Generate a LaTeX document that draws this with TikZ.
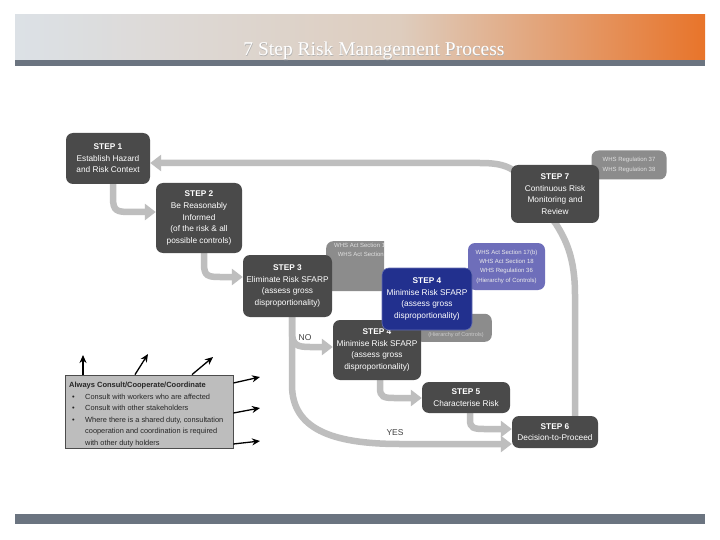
\documentclass[tikz,border=0pt]{standalone}
\usepackage{fontspec}
\setmainfont{Liberation Serif}
\setsansfont{Liberation Sans}
\usetikzlibrary{arrows.meta}
\definecolor{stepgray}{HTML}{4A4A4A}
\definecolor{arrowgray}{HTML}{BEBEBE}
\definecolor{refgray}{HTML}{8C8C8C}
\definecolor{stepblue}{HTML}{22308E}
\definecolor{refpurple}{HTML}{6E6EBA}
\definecolor{consultfill}{HTML}{BDBDBD}
\definecolor{barslate}{HTML}{6B7480}
\definecolor{bannerleft}{HTML}{DCE1E6}
\definecolor{bannermid}{HTML}{DECDBE}
\definecolor{bannerright}{HTML}{E8742A}
\tikzset{
  stepbox/.style={rounded corners=7pt, fill=stepgray, text=white, align=center, inner sep=0pt,
    font=\sffamily\fontsize{8.3}{11.6}\selectfont},
  refbox/.style={rounded corners=7pt, fill=refgray, text=white!88!black, align=center, inner sep=0pt,
    font=\sffamily\fontsize{6}{9.3}\selectfont},
  flow/.style={draw=arrowgray, line width=6.5pt, -{Triangle[width=16pt,length=11pt]}},
  consultarrow/.style={draw=black, line width=1.3pt, -{Stealth[length=8pt,width=7pt]}},
  consulttext/.style={anchor=base west, inner sep=0pt, text=black!85, font=\sffamily\fontsize{7.4}{8}\selectfont},
  flowlabel/.style={text=black!75, font=\sffamily\fontsize{8.5}{10}\selectfont, inner sep=0pt},
}
\begin{document}
\begin{tikzpicture}[x=1pt,y=-1pt]
\useasboundingbox (0,0) rectangle (720,540);
\fill[white] (0,0) rectangle (720,540);

% header banner
\shade[left color=bannerleft, right color=bannermid] (15,15) rectangle (400,60);
\shade[left color=bannermid, right color=bannerright] (400,15) rectangle (705,60);
\fill[barslate] (15,60.5) rectangle (705,66);
\node[font=\fontsize{19.5}{21}\selectfont, text=black!30, inner sep=0pt, anchor=base] (titleshadow) at (374.5,56.5) {7 Step Risk Management Process};
\node[font=\fontsize{19.5}{21}\selectfont, text=white, inner sep=0pt, anchor=base] (title) at (374,56) {7 Step Risk Management Process};
% footer bar
\fill[barslate] (15,514) rectangle (705,524);

% coordinates for node centres
\coordinate (p1) at (108,158.5);
\coordinate (p2) at (199,218);
\coordinate (p3) at (287.5,286);
\coordinate (p4d) at (377,350);
\coordinate (p4b) at (427,299);
\coordinate (p5) at (466,397.5);
\coordinate (p6) at (555,432);
\coordinate (p7) at (555,194);

% invisible placeholders so flows can refer to boxes before they are drawn
\path (p1) node[minimum width=84pt, minimum height=51pt, inner sep=0] (s1) {};
\path (p2) node[minimum width=86pt, minimum height=70pt, inner sep=0] (s2) {};
\path (p3) node[minimum width=89pt, minimum height=62pt, inner sep=0] (s3) {};
\path (p4d) node[minimum width=88pt, minimum height=60pt, inner sep=0] (s4d) {};
\path (p5) node[minimum width=88pt, minimum height=31pt, inner sep=0] (s5) {};
\path (p6) node[minimum width=86pt, minimum height=32pt, inner sep=0] (s6) {};

% flow arrows
\draw[flow] (113,0 |- s1.south) -- (113,198) .. controls (113,211) and (117,212) .. (130,212) -- (s2.west |- 0,212);
\draw[flow] (204,0 |- s2.south) -- (204,264) .. controls (204,276) and (208,277) .. (220,277) -- (s3.west |- 0,277);
\draw[flow] (292,0 |- s3.south) -- (292,385) .. controls (292,428) and (330,444) .. (400,444) -- (s6.west |- 0,444);
\draw[flow] (292,0 |- s3.south) -- (292,332) .. controls (292,345) and (297,347) .. (310,347) -- (s4d.west |- 0,347);
\draw[flow] (380,0 |- s4d.south) -- (380,388) .. controls (380,397) and (384,398) .. (394,398) -- (s5.west |- 0,398);
\draw[flow] (470,0 |- s5.south) -- (470,420) .. controls (470,428) and (474,429) .. (484,429) -- (s6.west |- 0,429);
\draw[flow] (575,0 |- s6.north) -- (575,295) .. controls (575,258) and (566,240) .. (556,224) -- (522,178) .. controls (508,162) and (492,163) .. (470,163) -- (s1.east |- 0,163);

\node[flowlabel] (no) at (305,338) {NO};
\node[flowlabel] (yes) at (395,433) {YES};

% reference boxes and steps
\node[refbox, minimum width=75pt, minimum height=29pt] (whsR) at (629,165) {WHS Regulation 37\\WHS Regulation 38};
\node[stepbox, minimum width=88pt, minimum height=58pt] (s7) at (p7) {\textbf{STEP 7}\\Continuous Risk\\Monitoring and\\Review};

\begin{scope}
  \clip (320,235) rectangle (384,300);
  \node[refbox, minimum width=80pt, minimum height=50pt, anchor=north west] (whsA) at (326,241) {};
  \node[refbox, fill=none, anchor=north] (whsAtext) at (365,243) {WHS Act Section 17(b)\\WHS Act Section 18};
\end{scope}

\node[stepbox, minimum width=89pt, minimum height=62pt] at (p3) {\textbf{STEP 3}\\Eliminate Risk SFARP\\(assess gross\\disproportionality)};

\node[refbox, minimum width=77pt, minimum height=28pt, anchor=south east] (whsH) at (492,342) {};
\node[refbox, fill=none, text=white!80!black, font=\sffamily\fontsize{5.5}{7}\selectfont] (whsHtext) at (456,335) {(Hierarchy of Controls)};

\node[stepbox, minimum width=88pt, minimum height=60pt] at (p4d) {\textbf{STEP 4}\\Minimise Risk SFARP\\(assess gross\\disproportionality)};

\node[refbox, fill=refpurple, text=white!92!black, minimum width=77pt, minimum height=47pt] (whsP) at (506.5,266.5) {WHS Act Section 17(b)\\WHS Act Section 18\\WHS Regulation 36\\(Hierarchy of Controls)};

\node[stepbox, fill=stepblue, draw=stepblue!70!white, line width=0.6pt, minimum width=90pt, minimum height=62pt] (s4b) at (p4b) {\textbf{STEP 4}\\Minimise Risk SFARP\\(assess gross\\disproportionality)};

\node[stepbox, minimum width=84pt, minimum height=51pt] at (p1) {\textbf{STEP 1}\\Establish Hazard\\and Risk Context};
\node[stepbox, minimum width=86pt, minimum height=70pt] at (p2) {\textbf{STEP 2}\\Be Reasonably\\Informed\\(of the risk \& all\\possible controls)};
\node[stepbox, minimum width=88pt, minimum height=31pt] at (p5) {\textbf{STEP 5}\\Characterise Risk};
\node[stepbox, minimum width=86pt, minimum height=32pt] at (p6) {\textbf{STEP 6}\\Decision-to-Proceed};

% consult box
\node[draw=black!70, line width=0.8pt, fill=consultfill, minimum width=168pt, minimum height=73pt, inner sep=0pt] (consult) at (149,411.5) {};
\node[consulttext, font=\sffamily\bfseries\fontsize{7.5}{8}\selectfont] (c0) at (69,387.5) {Always Consult/Cooperate/Coordinate};
\node[consulttext] (b1) at (72,399) {\textbullet};
\node[consulttext] (c1) at (85,399) {Consult with workers who are affected};
\node[consulttext] (b2) at (72,410.5) {\textbullet};
\node[consulttext] (c2) at (85,410.5) {Consult with other stakeholders};
\node[consulttext] (b3) at (72,422) {\textbullet};
\node[consulttext] (c3) at (85,422) {Where there is a shared duty, consultation};
\node[consulttext] (c4) at (85,433.5) {cooperation and coordination is required};
\node[consulttext] (c5) at (85,445) {with other duty holders};

\coordinate (u1) at (83,355);
\coordinate (u2) at (148,354);
\coordinate (u3) at (213,357);
\coordinate (r1) at (260,377);
\coordinate (r2) at (260,408);
\coordinate (r3) at (260,441);
\draw[consultarrow] (83,0 |- consult.north) -- (u1);
\draw[consultarrow] (135,0 |- consult.north) -- (u2);
\draw[consultarrow] (192,0 |- consult.north) -- (u3);
\draw[consultarrow] (consult.east |- 0,383) -- (r1);
\draw[consultarrow] (consult.east |- 0,413) -- (r2);
\draw[consultarrow] (consult.east |- 0,444) -- (r3);
\end{tikzpicture}
\end{document}
